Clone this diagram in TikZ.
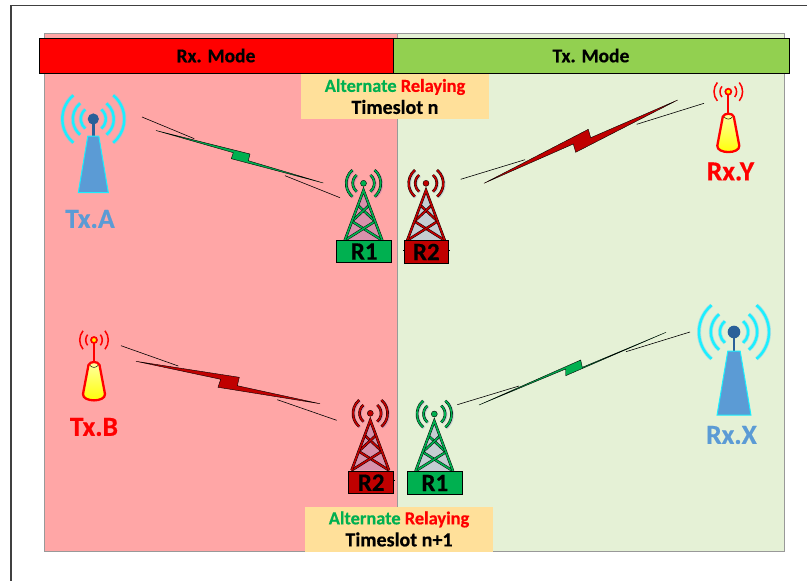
\documentclass[tikz,border=0pt]{standalone}
\usepackage{fontspec}
\setmainfont[BoldFeatures={FakeBold=0.4}]{Carlito}
\usetikzlibrary{positioning,shadows,shapes}
\definecolor{rxpink}{HTML}{FFA6A6}
\definecolor{txgreen}{HTML}{E5F1D6}
\definecolor{modegreen}{HTML}{92D050}
\definecolor{slotyellow}{HTML}{FFE09A}
\definecolor{relaygreen}{HTML}{00B050}
\definecolor{relayred}{HTML}{C00000}
\definecolor{mastblue}{HTML}{5B9BD5}
\definecolor{beaconblue}{HTML}{2A6099}
\definecolor{wavecyan}{HTML}{19F0FF}
\tikzset {
    style Panel/.style={
        rectangle, % Set the shape as a rectangle
        draw=black!40,
        line width=1pt,
        inner sep=0pt,
    },
    style Mode/.style={
        rectangle,
        draw=black,
        line width=1pt,
        inner sep=0pt,
        minimum height=35pt,
        font=\bfseries\fontsize{19.5}{22}\selectfont,
    },
    style Slot/.style={
        rectangle,
        fill=slotyellow,
        inner sep=0pt,
        minimum width=188pt,
        minimum height=45pt,
        align=center,
        font=\bfseries\fontsize{18.4}{22}\selectfont,
    },
    style Relay/.style={
        rectangle,
        draw=black,
        line width=.8pt,
        inner sep=0pt,
        minimum height=22.5pt,
        font=\bfseries\fontsize{25}{25}\selectfont,
    },
    style Label/.style={
        inner sep=0pt,
        font=\bfseries\fontsize{27.5}{27.5}\selectfont,
    },
    style Bolt/.style={draw=black, line width=.4pt, line join=miter},
    style Thin/.style={draw=black, line width=.6pt},
    style Glow/.style={
        preaction={draw=blue!50!gray, draw opacity=.18, line width=3pt,
            transform canvas={shift={(.8pt,-.8pt)}}},
    },
    style Wave/.style={
        preaction={draw=cyan!60!white, draw opacity=.45, line width=4pt},
        draw=wavecyan,
        line width=2.4pt,
    },
    style Beam/.style={draw=black, double=#1, double distance=1.7pt, line width=.45pt},
    pics/bluemast/.style={code={
        \foreach \r in {12.5,20.5,31} {
            \draw[style Wave] (50:\r) arc (50:-50:\r);
            \draw[style Wave] (130:\r) arc (130:230:\r);
        }
        \draw[beaconblue, line width=2.8pt] (0,0) -- (0,-17);
        \fill[beaconblue] (0,0) circle (5.6);
        \draw[wavecyan, fill=mastblue, line width=1pt] (-5.5,-17) -- (5.5,-17) -- (15,-73.5) -- (-15,-73.5) -- cycle;
    }},
    pics/yellowmast/.style={code={
        \foreach \r in {8.3,14.3} {
            \draw[red, line width=1.5pt] (40:\r) arc (40:-40:\r);
            \draw[red, line width=1.5pt] (140:\r) arc (140:220:\r);
        }
        \draw[red, line width=1.8pt] (0,0) -- (0,-22);
        \draw[red, fill=yellow, line width=1.7pt] (0,0) circle (3);
        \draw[red, top color=yellow!35, bottom color=yellow, line width=2.3pt]
            (-5.5,-25) .. controls (-4,-21) and (4,-21) .. (5.5,-25) -- (11,-54)
            .. controls (11.5,-62.5) and (-11.5,-62.5) .. (-11,-54) -- cycle;
        \draw[black, line width=.5pt] (-4,-25.5) .. controls (-1.5,-28) and (1.5,-28) .. (4,-25.5);
    }},
    pics/lattice/.style={code={
        \fill[blue!50!gray, opacity=.2] (0,-7) -- (18.7,-57) -- (-18.7,-57) -- cycle;
        \foreach \r in {10.8,17.3} {
            \draw[style Glow, style Beam=#1] (50:\r) arc (50:-50:\r);
            \draw[style Glow, style Beam=#1] (130:\r) arc (130:230:\r);
        }
        \draw[black, fill=#1, line width=.4pt] (0,0) circle (3);
        \draw[style Beam=#1] (-5.6,-22) -- (11.6,-38);
        \draw[style Beam=#1] (5.6,-22) -- (-11.6,-38);
        \draw[style Beam=#1] (-11.6,-38) -- (18.7,-57);
        \draw[style Beam=#1] (11.6,-38) -- (-18.7,-57);
        \draw[style Beam=#1] (-18.7,-57) -- (0,-7) -- (18.7,-57);
    }},
}
\begin{document}
\begin{tikzpicture}[x=1pt,y=1pt]
    \useasboundingbox (0,0) rectangle (807,-581);

    % outer frame
    \coordinate (frametl) at (11,-5.5);
    \coordinate (framebl) at (11,-581);
    \coordinate (frametr) at (807,-5.5);
    \draw[black!75, line width=1.2pt] (framebl) -- (frametl) -- (frametr);

    % two halves
    \node[style Panel, fill=rxpink, minimum width=353.5pt, minimum height=518pt] (rxpanel) at (220.75,-292) {};
    \node[style Panel, fill=txgreen, minimum width=386.5pt, minimum height=518pt] (txpanel) at (590.75,-292) {};

    \node[style Mode, fill=red, minimum width=354pt] (rxmode) at (216,-55.5) {Rx. Mode};
    \node[style Mode, fill=modegreen, minimum width=396pt] (txmode) at (591,-55.5) {Tx. Mode};

    \node[style Slot] (slotn) at (395,-96.5) {\textcolor{relaygreen}{Alternate} \textcolor{red}{Relaying}\\{\fontsize{20}{22}\selectfont Timeslot n}};
    \node[style Slot] (slotnn) at (399,-529) {\textcolor{relaygreen}{Alternate} \textcolor{red}{Relaying}\\{\fontsize{20}{22}\selectfont Timeslot n+1}};

    % end stations
    \pic (txa) at (93.3,-119) {bluemast};
    \node[style Label, text=mastblue] (txalabel) at (90,-219) {Tx.A};
    \pic[scale=1.13] (rxx) at (734,-332) {bluemast};
    \node[style Label, text=mastblue] (rxxlabel) at (731.5,-435) {Rx.X};
    \pic (rxy) at (728.3,-91.7) {yellowmast};
    \node[style Label, text=red] (rxylabel) at (730.5,-171.5) {Rx.Y};
    \pic (txb) at (94,-340) {yellowmast};
    \node[style Label, text=red] (txblabel) at (94,-427) {Tx.B};

    % relays
    \pic (ronetop) at (363.5,-183.3) {lattice=relaygreen};
    \node[style Relay, fill=relaygreen, minimum width=55pt] (ronea) at (364.2,-251.5) {R1};
    \draw[black, line width=.8pt] (403,-250.7) -- (449.5,-250.7);
    \pic (rtwotop) at (426,-183.3) {lattice=relayred};
    \node[style Relay, fill=relayred, minimum width=44.5pt] (rtwoa) at (426.3,-252) {R2};
    \draw[black, line width=.8pt] (347.8,-480.7) -- (394.5,-480.7);
    \pic (rtwobot) at (370.3,-413.3) {lattice=relayred};
    \node[style Relay, fill=relayred, minimum width=45pt] (rtwob) at (371.2,-482.6) {R2};
    \pic (ronebot) at (434.3,-414) {lattice=relaygreen};
    \node[style Relay, fill=relaygreen, minimum width=55pt] (roneb) at (434.8,-483) {R1};

    % links
    \coordinate (boltas) at (156,-130.5);
    \coordinate (boltae) at (323.3,-183);
    \draw[style Bolt, fill=relaygreen] (boltas) -- (250,-154) -- (248.3,-160.7) -- (boltae) -- (231.3,-158.7) -- (233.3,-152.7) -- cycle;
    \coordinate (boltys) at (484,-183.3);
    \coordinate (boltye) at (677.7,-100);
    \draw[style Bolt, fill=relayred] (boltys) -- (588.3,-129.3) -- (590.7,-137.7) -- (boltye) -- (575.7,-152.3) -- (573.3,-144) -- cycle;
    \coordinate (boltbs) at (136,-361.3);
    \coordinate (boltbe) at (320,-403.7);
    \draw[style Bolt, fill=relayred] (boltbs) -- (239.3,-377.3) -- (237.3,-385.7) -- (boltbe) -- (218,-387.3) -- (220.7,-379.3) -- cycle;
    \coordinate (boltxs) at (479,-405);
    \coordinate (boltxe) at (666,-332.3);
    \draw[style Bolt, fill=relaygreen] (boltxs) -- (580.7,-360) -- (582.3,-367.3) -- (boltxe) -- (565.7,-375.7) -- (565.7,-369) -- cycle;

    \coordinate (thina) at (142,-117);
    \coordinate (thinb) at (194.3,-138.7);
    \coordinate (thinc) at (285,-175.7);
    \coordinate (thind) at (340,-197.7);
    \draw[style Thin] (thina) -- (thinb);
    \draw[style Thin] (thinc) -- (thind);
    \coordinate (thine) at (460.7,-179.3);
    \coordinate (thinf) at (525,-159.7);
    \coordinate (thing) at (636.7,-124.3);
    \coordinate (thinh) at (704,-103.3);
    \draw[style Thin] (thine) -- (thinf);
    \draw[style Thin] (thing) -- (thinh);
    \coordinate (thini) at (121,-345.7);
    \coordinate (thinj) at (178.3,-366);
    \coordinate (think) at (277.3,-399.7);
    \coordinate (thinl) at (336.7,-420.3);
    \draw[style Thin] (thini) -- (thinj);
    \draw[style Thin] (think) -- (thinl);
    \coordinate (thinm) at (457.3,-404.7);
    \coordinate (thinn) at (519,-386);
    \coordinate (thino) at (626,-351.7);
    \coordinate (thinp) at (690,-332);
    \draw[style Thin] (thinm) -- (thinn);
    \draw[style Thin] (thino) -- (thinp);

\end{tikzpicture}
\end{document}
